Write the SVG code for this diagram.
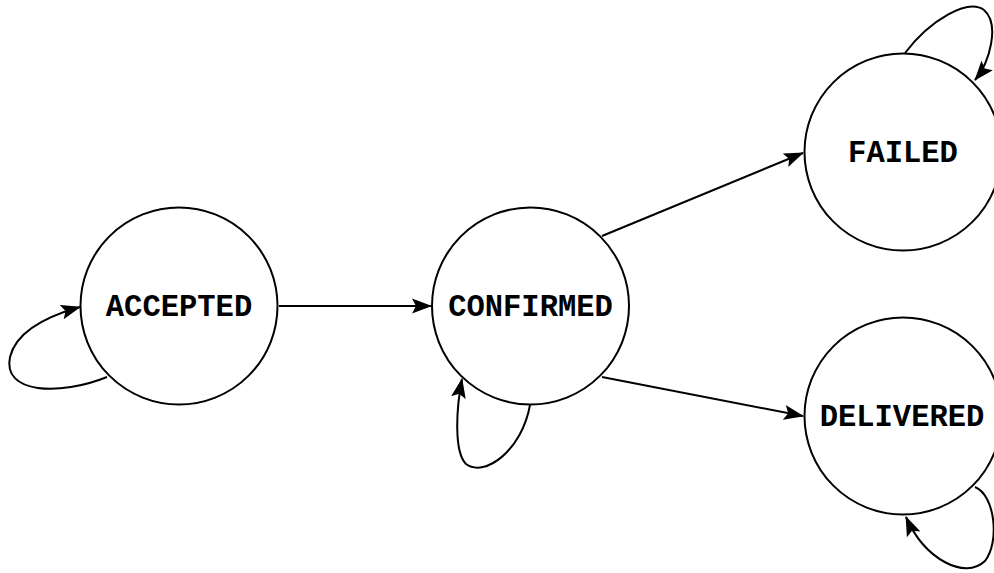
<svg xmlns="http://www.w3.org/2000/svg" width="994" height="573" viewBox="0 0 994 573">
<style>
.node circle{fill:#fff;stroke:#000;stroke-width:2}
.node text{font-family:"Liberation Mono","Courier New",monospace;font-weight:bold;font-size:30.5px;text-anchor:middle;fill:#000}
.edges path{fill:none;stroke:#000;stroke-width:2;marker-end:url(#arr)}
</style>
<defs>
<marker id="arr" viewBox="0 0 10 8" refX="9.5" refY="4" markerWidth="20" markerHeight="16" markerUnits="userSpaceOnUse" orient="auto">
<path d="M0,0.3 L10,4 L0,7.7 L2,4 z" fill="#000"/>
</marker>
</defs>
<rect width="994" height="573" fill="#fff"/>
<g class="edges" id="edges">
<path d="M279,306 L431,306"/>
<path d="M602,236 L803,153"/>
<path d="M602,377 L803,416"/>
<path d="M107,377 C60,396 2,394 10,357 C17,328 55,314 80,307"/>
<path d="M530,405 C522,450 485,478 466,464 C454,452 456,410 462,379"/>
<path d="M905,53 C930,20 968,-2 984,10 C1000,24 990,62 975,80"/>
<path d="M975,487 C995,495 1000,542 985,561 C965,580 925,560 906,517"/>
</g>
<g class="node" id="accepted"><circle cx="179" cy="306" r="98.5"/><text x="179" y="316">ACCEPTED</text></g>
<g class="node" id="confirmed"><circle cx="530.5" cy="306" r="98.5"/><text x="530.5" y="316">CONFIRMED</text></g>
<g class="node" id="failed"><circle cx="903" cy="152" r="98.5"/><text x="903" y="162">FAILED</text></g>
<g class="node" id="delivered"><circle cx="903" cy="416" r="98.5"/><text x="902" y="426">DELIVERED</text></g>
</svg>
